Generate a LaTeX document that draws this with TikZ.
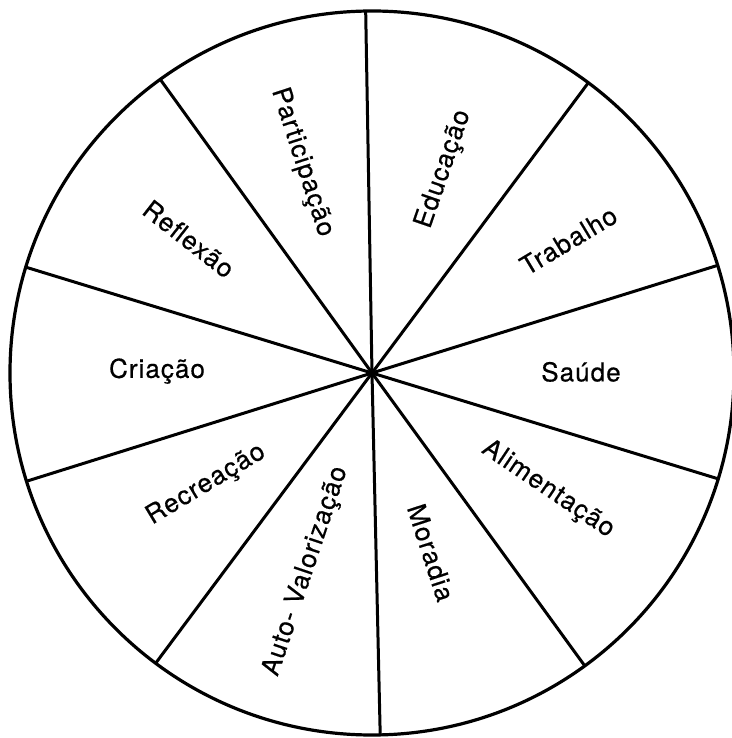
\documentclass[tikz,border=0pt]{standalone}
\usepackage{fontspec}
\setmainfont[LetterSpace=4,FakeBold=0.5]{TeX Gyre Heros}
\begin{document}
\begin{tikzpicture}[x=1pt,y=1pt,
  rim/.style={line width=3.2pt,draw=black},
  spoke/.style={line width=3pt,draw=black},
  lab/.style={font=\fontsize{26}{30}\selectfont,inner sep=0pt}]
\useasboundingbox (-372,-365) rectangle (359,373);
\coordinate (c) at (0,0);
\draw[rim] (c) circle (362);
\foreach \a/\n in {17.3/p1,53.3/p2,91/p3,125.8/p4,163/p5,197.4/p6,233.3/p7,271.3/p8,306/p9,343/p10}{
  \coordinate (\n) at (\a:362);
  \draw[spoke] (c) -- (\n);
}
\node[lab,rotate=-72] (participacao) at (108.4:222) {Participação};
\node[lab,rotate=71] (educacao) at (70.6:216) {Educação};
\node[lab,rotate=31] (trabalho) at (34:237) {Trabalho};
\node[lab] (saude) at (0.3:209) {Saúde};
\node[lab,rotate=-34] (alimentacao) at (-33.5:211) {Alimentação};
\node[lab,rotate=-72] (moradia) at (-71.8:189) {Moradia};
\node[lab,rotate=71.5] (auto) at (251.6:209) {Auto- Valorização};
\node[lab,rotate=31] (recreacao) at (214:200) {Recreação};
\node[lab] (criacao) at (179.5:215) {Criação};
\node[lab,rotate=-38] (reflexao) at (143.8:227) {Reflexão};
\end{tikzpicture}
\end{document}
